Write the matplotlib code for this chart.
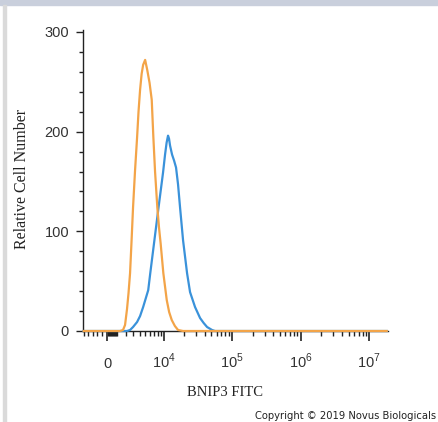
import numpy as np
import matplotlib
matplotlib.use("Agg")
import matplotlib.pyplot as plt
import matplotlib.transforms as mtransforms
from matplotlib.patches import Rectangle
from matplotlib.ticker import MultipleLocator

plt.rcParams["font.family"] = "Liberation Sans"
plt.rcParams["mathtext.fontset"] = "custom"
plt.rcParams["mathtext.rm"] = "Liberation Sans"

# isotype control (orange) - fluorescence vs relative cell number
iso_x = [-2600, 1350, 1690, 1930, 2170, 2360, 2560, 2760, 2970, 3260, 3570, 3800, 4060,
         4330, 4600, 4980, 5400, 5900, 6400, 6790, 7230, 7850, 8330, 8830, 9720, 10950,
         11900, 13020, 14500, 16160, 19170, 1.8e7]
iso_y = [0, 0, 1, 6, 22, 38, 58, 90, 124, 161, 194, 220, 242,
         258, 267, 272, 262, 249, 232, 195, 160, 124, 104, 88, 58, 31,
         19, 11, 5, 1, 0, 0]

# BNIP3 stained (blue)
bnip_x = [-2600, 2170, 2560, 2970, 3570, 4060, 4600, 5610, 6060, 7060, 8200, 9620,
          10320, 10900, 11450, 11850, 12280, 13160, 14100, 15090, 16160, 17300, 19170,
          21960, 24300, 28780, 34080, 38500, 43140, 51060, 56460, 1.8e7]
bnip_y = [0, 0, 1, 4, 9, 15, 24, 41, 58, 91, 124, 159,
          177, 189, 196, 193, 186, 177, 171, 164, 147, 124, 91,
          58, 39, 24, 13, 8, 4, 1, 0, 0]

x_major = [0, 1e4, 1e5, 1e6, 1e7]
x_labels = ["0", r"$10^{4}$", r"$10^{5}$", r"$10^{6}$", r"$10^{7}$"]

C = 3000.0


def fwd(v):
    return np.arcsinh(np.asarray(v) / C)


def inv(v):
    return C * np.sinh(np.asarray(v))


fig = plt.figure(figsize=(4.38, 4.22), dpi=100)
ax = fig.add_axes([83 / 438, 1 - 331 / 422, 305 / 438, 301 / 422])

ax.set_xscale("function", functions=(fwd, inv))
ax.plot(bnip_x, bnip_y, color="#3a92da", lw=1.6, zorder=3, clip_on=False,
        solid_joinstyle="round")
ax.plot(iso_x, iso_y, color="#f3a448", lw=1.6, zorder=4, clip_on=False,
        solid_joinstyle="round")

ax.set_xlim(-2690, 1.88e7)
ax.set_ylim(0, 302)

for s in ["top", "right"]:
    ax.spines[s].set_visible(False)
for s in ["left", "bottom"]:
    ax.spines[s].set_color("#222222")
    ax.spines[s].set_linewidth(1.0)

# y axis
ax.set_yticks([0, 100, 200, 300])
ax.yaxis.set_minor_locator(MultipleLocator(20))
ax.tick_params(axis="y", which="major", length=5, width=1, color="#222222",
               labelsize=10.5, labelcolor="#333333", pad=5)
ax.tick_params(axis="y", which="minor", length=3, width=1, color="#222222")

# x axis
minor = [-2500, -2000, -1500, -1000, -500]
minor += [k * 100 for k in range(1, 10)]
minor += [k * 1000 for k in range(1, 10)]
for n in [4, 5, 6]:
    minor += [k * 10 ** n for k in range(2, 10)]
ax.set_xticks(x_major)
ax.set_xticks(minor, minor=True)
ax.set_xticklabels([])
ax.tick_params(axis="x", which="major", length=7, width=1.2, color="#222222")
ax.tick_params(axis="x", which="minor", length=3.5, width=1, color="#222222")

trans = mtransforms.blended_transform_factory(ax.transData, ax.transAxes)
for xv, lab in zip(x_major, x_labels):
    ax.text(xv, -0.123, lab, transform=trans, ha="center", va="baseline",
            fontsize=10.5, color="#333333")

ax.set_ylabel("Relative Cell Number", fontfamily="Liberation Serif", fontsize=11.5,
              color="#222222")
ax.yaxis.set_label_coords(-0.175, 0.505)
ax.set_xlabel("BNIP3 FITC", fontfamily="Liberation Serif", fontsize=10.5, color="#222222")
ax.xaxis.set_label_coords(0.466, -0.183)

# frame bits of the screenshot
fig.patches.append(Rectangle((0, 1 - 5 / 422), 1, 5 / 422, transform=fig.transFigure,
                             color="#c9cfdc", zorder=0))
fig.patches.append(Rectangle((3 / 438, 0), 3 / 438, 1 - 5 / 422, transform=fig.transFigure,
                             color="#dadada", zorder=0))

fig.text(436 / 438, 3 / 422, "Copyright \u00a9 2019 Novus Biologicals", fontsize=7.2,
         fontfamily="DejaVu Sans", color="#222222", va="baseline", ha="right")

fig.savefig("out.png", dpi=100)
